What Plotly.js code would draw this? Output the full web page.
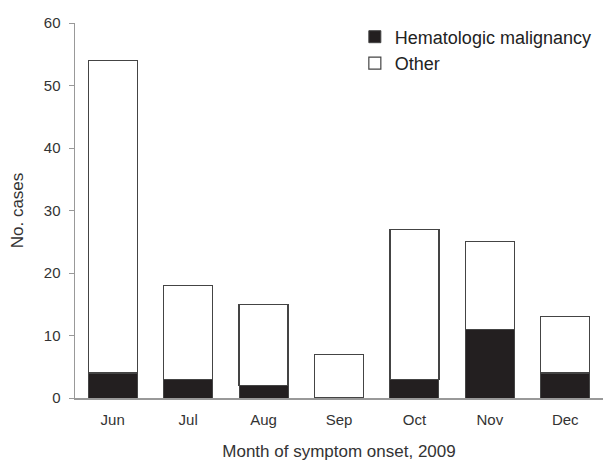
<!DOCTYPE html>
<html><head><meta charset="utf-8">
<script src="https://cdn.plot.ly/plotly-3.0.1.min.js"></script>
<style>html,body{margin:0;padding:0;background:#fff}#c{width:609px;height:461px}</style>
</head><body><div id="c"></div>
<script>
const months = ["Jun","Jul","Aug","Sep","Oct","Nov","Dec"];
const hematologic = [4,3,2,0,3,11,4];
const other = [50,15,13,7,24,14,9];
const seriesNames = ["Hematologic malignancy","Other"];

const traces = [
  {type:"bar", x:months, y:hematologic, name:seriesNames[0],
   marker:{color:"#231f20", line:{color:"#444", width:hematologic.map(v => v > 0 ? 1 : 0)}}},
  {type:"bar", x:months, y:other, name:seriesNames[1],
   marker:{color:"#ffffff", line:{color:"#444", width:1.2}}}
];
const layout = {
  width:609, height:461,
  margin:{l:75, r:6, t:23, b:63},
  barmode:"stack", bargap:0.35,
  paper_bgcolor:"#fff", plot_bgcolor:"#fff",
  font:{family:"Liberation Sans, Arial, sans-serif", size:15, color:"#333"},
  showlegend:true,
  legend:{x:0.53, y:1.012, xanchor:"left", yanchor:"top", bgcolor:"rgba(0,0,0,0)",
    font:{size:18, color:"#222"}, traceorder:"normal", itemwidth:30},
  xaxis:{showline:true, linecolor:"#999", linewidth:1.5, ticks:"", showgrid:false,
    tickfont:{size:15, color:"#333"}, ticklabelstandoff:7,
    title:{text:"Month of symptom onset, 2009", font:{size:17, color:"#333"}, standoff:19}},
  yaxis:{range:[0,60], dtick:10, showline:true, linecolor:"#999", linewidth:1.5,
    ticks:"outside", ticklen:5, tickcolor:"#999", showgrid:false, zeroline:false,
    tickfont:{size:15, color:"#333"}, ticklabelstandoff:5,
    title:{text:"No. cases", font:{size:17, color:"#333"}, standoff:16}}
};
Plotly.newPlot("c", traces, layout, {displayModeBar:false, staticPlot:true});
</script></body></html>
